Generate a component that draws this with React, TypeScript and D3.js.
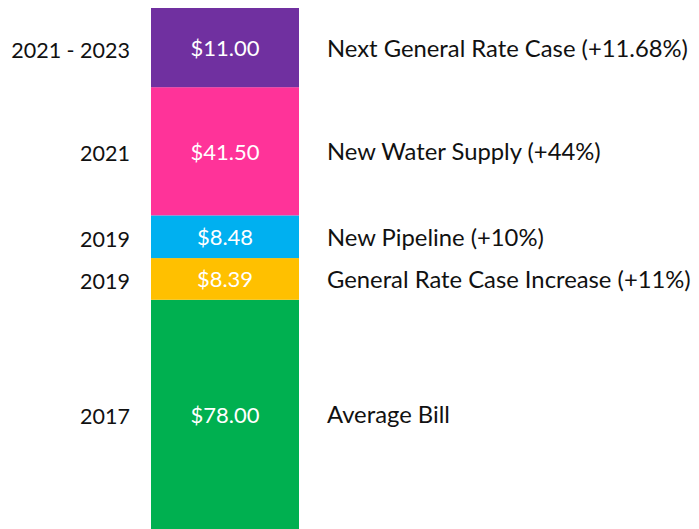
import React, { useEffect, useRef } from "react";
import * as d3 from "d3";

// segments, bottom to top
const periods = ["2017", "2019", "2019", "2021", "2021 - 2023"];
const amounts = [78.0, 8.39, 8.48, 41.5, 11.0];
const descriptions = [
  "Average Bill",
  "General Rate Case Increase (+11%)",
  "New Pipeline (+10%)",
  "New Water Supply (+44%)",
  "Next General Rate Case (+11.68%)",
];
const colors = ["#00B050", "#FFC000", "#00B0F0", "#FF3399", "#7030A0"];

// the graphic is not drawn to scale: share of the bar height reached at each segment boundary
const boundaryShare = [0, 0.44, 0.52, 0.602, 0.848, 1];

const W = 699;
const H = 529;

export default function App() {
  const svgRef = useRef<SVGSVGElement>(null);

  useEffect(() => {
    const svg = d3.select(svgRef.current);
    svg.selectAll("*").remove();

    const font = "Lato, 'Open Sans', sans-serif";
    const barLeft = 151;
    const barRight = 299;
    const top = 8;
    const bottom = H;

    const cum = [0, ...d3.cumsum(amounts)];
    const y = d3
      .scaleLinear()
      .domain(cum)
      .range(boundaryShare.map((s) => bottom - s * (bottom - top)));

    const segs = amounts.map((v, i) => ({
      v,
      i,
      y0: y(cum[i]),
      y1: y(cum[i + 1]),
    }));

    const g = svg.append("g");

    g.selectAll("rect")
      .data(segs)
      .enter()
      .append("rect")
      .attr("x", barLeft)
      .attr("width", barRight - barLeft)
      .attr("y", (d) => d.y1)
      .attr("height", (d) => d.y0 - d.y1)
      .attr("fill", (d) => colors[d.i]);

    // value labels
    g.selectAll("text.val")
      .data(segs)
      .enter()
      .append("text")
      .attr("class", "val")
      .attr("x", (barLeft + barRight) / 2)
      .attr("y", (d) => (d.y0 + d.y1) / 2)
      .attr("text-anchor", "middle")
      .attr("dominant-baseline", "central")
      .attr("fill", "#fff")
      .style("font-family", font)
      .style("font-size", "22px")
      .text((d) => "$" + d3.format(".2f")(d.v));

    // period labels
    g.selectAll("text.per")
      .data(segs)
      .enter()
      .append("text")
      .attr("class", "per")
      .attr("x", 130)
      .attr("y", (d) => (d.y0 + d.y1) / 2 + 2)
      .attr("text-anchor", "end")
      .attr("dominant-baseline", "central")
      .attr("fill", "#111")
      .style("font-family", font)
      .style("font-size", "21.5px")
      .text((d) => periods[d.i]);

    // descriptions
    g.selectAll("text.desc")
      .data(segs)
      .enter()
      .append("text")
      .attr("class", "desc")
      .attr("x", 327)
      .attr("y", (d) => (d.y0 + d.y1) / 2)
      .attr("dominant-baseline", "central")
      .attr("fill", "#111")
      .style("font-family", font)
      .style("font-size", "23.8px")
      .text((d) => descriptions[d.i]);
  }, []);

  return (
    <svg
      ref={svgRef}
      width={W}
      height={H}
      style={{ position: "absolute", left: 0, top: 0, display: "block", background: "#fff" }}
    />
  );
}
